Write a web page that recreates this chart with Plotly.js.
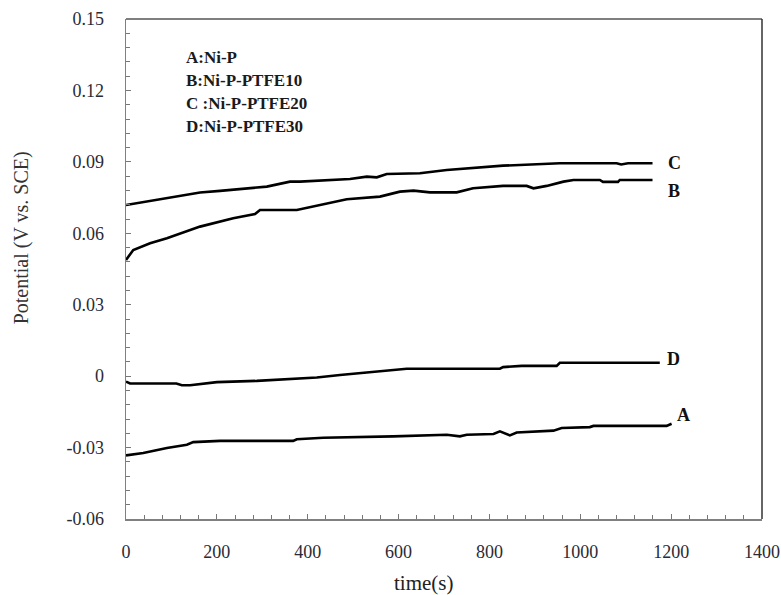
<!DOCTYPE html>
<html>
<head>
<meta charset="utf-8">
<script src="https://cdn.plot.ly/plotly-3.0.1.min.js"></script>
<style>html,body{margin:0;padding:0;background:#fff;}#chart{width:781px;height:595px;}</style>
</head>
<body>
<div id="chart"></div>
<script>
// Series A: Ni-P
const tA = [0, 38, 90, 134, 148, 207, 368, 376, 434, 559, 588, 706, 735, 750, 809, 823, 845, 860, 941, 959, 1021, 1029, 1190, 1201];
const vA = [-0.0333, -0.0323, -0.0302, -0.0288, -0.0277, -0.0272, -0.0272, -0.0265, -0.0259, -0.0256, -0.0253, -0.0246, -0.0253, -0.0246, -0.0243, -0.0232, -0.0249, -0.0237, -0.0229, -0.0218, -0.0214, -0.0209, -0.0209, -0.0200];
// Series B: Ni-P-PTFE10
const tB = [0, 16, 53, 90, 163, 236, 284, 295, 376, 427, 486, 559, 603, 633, 669, 728, 764, 830, 882, 897, 926, 963, 985, 1043, 1050, 1083, 1087, 1159];
const vB = [0.0488, 0.0530, 0.0558, 0.0579, 0.0628, 0.0663, 0.0681, 0.0698, 0.0698, 0.0719, 0.0743, 0.0754, 0.0775, 0.0779, 0.0772, 0.0772, 0.0789, 0.0799, 0.0799, 0.0789, 0.0799, 0.0817, 0.0824, 0.0824, 0.0816, 0.0816, 0.0824, 0.0824];
// Series C: Ni-P-PTFE20
const tC = [0, 163, 207, 310, 361, 383, 493, 530, 552, 574, 647, 706, 830, 919, 955, 1080, 1090, 1105, 1159];
const vC = [0.0719, 0.0771, 0.0778, 0.0796, 0.0817, 0.0817, 0.0828, 0.0838, 0.0835, 0.0849, 0.0852, 0.0866, 0.0884, 0.0890, 0.0894, 0.0894, 0.0889, 0.0894, 0.0894];
// Series D: Ni-P-PTFE30
const tD = [0, 9, 111, 123, 141, 200, 288, 361, 420, 471, 530, 559, 588, 618, 823, 830, 871, 948, 955, 1175];
const vD = [-0.0023, -0.0031, -0.0031, -0.0038, -0.0038, -0.0025, -0.0020, -0.0011, -0.0006, 0.0005, 0.0015, 0.0018, 0.0024, 0.0031, 0.0031, 0.0038, 0.0043, 0.0043, 0.0056, 0.0056];

const seriesLetters = ['A', 'B', 'C', 'D'];
const legendLines = ['A:Ni-P', 'B:Ni-P-PTFE10', 'C :Ni-P-PTFE20', 'D:Ni-P-PTFE30'];
const yTickVals = [-0.06, -0.03, 0, 0.03, 0.06, 0.09, 0.12, 0.15];
const yTickText = ['-0.06', '-0.03', '0', '0.03', '0.06', '0.09', '0.12', '0.15'];
const xTickVals = [0, 200, 400, 600, 800, 1000, 1200, 1400];
const xTickText = ['0', '200', '400', '600', '800', '1000', '1200', '1400'];

const xs = [tA, tB, tC, tD];
const ys = [vA, vB, vC, vD];
const labelShift = [{dx: 3, dy: 9}, {dx: 13, dy: -11}, {dx: 13, dy: 0}, {dx: 5, dy: 4}];

const traces = xs.map((x, i) => ({
  x: x, y: ys[i], type: 'scatter', mode: 'lines',
  line: {color: '#000', width: 2.6},
  name: legendLines[i], showlegend: false, hoverinfo: 'skip'
}));

const serif = 'Liberation Serif, Times New Roman, serif';
const annotations = [];
xs.forEach((x, i) => {
  annotations.push({
    x: x[x.length - 1], y: ys[i][ys[i].length - 1], xref: 'x', yref: 'y',
    text: '<b>' + seriesLetters[i] + '</b>', showarrow: false,
    xanchor: 'left', yanchor: 'middle', xshift: labelShift[i].dx, yshift: labelShift[i].dy,
    font: {family: serif, size: 18, color: '#111'}
  });
});
legendLines.forEach((txt, i) => {
  annotations.push({
    x: 0.0915, y: 0.922 - i * 0.0454, xref: 'paper', yref: 'paper',
    text: '<b>' + txt + '</b>', showarrow: false, xanchor: 'left', yanchor: 'middle',
    font: {family: serif, size: 17, color: '#1a1a1a'}
  });
});
annotations.push({
  x: -0.163, y: 0.562, xref: 'paper', yref: 'paper', textangle: -90,
  text: 'Potential (V vs. SCE)', showarrow: false, xanchor: 'center', yanchor: 'middle',
  font: {family: serif, size: 20, color: '#333'}
});
annotations.push({
  x: 0.467, y: -0.128, xref: 'paper', yref: 'paper',
  text: 'time(s)', showarrow: false, xanchor: 'center', yanchor: 'middle',
  font: {family: serif, size: 21, color: '#222'}
});

const layout = {
  width: 781, height: 595,
  margin: {l: 126, r: 19, t: 19, b: 76},
  paper_bgcolor: '#fff', plot_bgcolor: '#fff',
  showlegend: false,
  xaxis: {
    range: [0, 1400], tickmode: 'array', tickvals: xTickVals, ticktext: xTickText,
    ticks: 'inside', ticklen: 5, tickwidth: 1, tickcolor: '#777',
    minor: {ticks: 'inside', tick0: 0, dtick: 40, ticklen: 4, tickcolor: '#777', showgrid: false},
    showline: true, linecolor: '#808080', linewidth: 1.5,
    showgrid: false, zeroline: false, ticklabelstandoff: 16,
    tickfont: {family: serif, size: 18, color: '#2a2a35'}
  },
  yaxis: {
    range: [-0.06, 0.15], tickmode: 'array', tickvals: yTickVals, ticktext: yTickText,
    ticks: 'inside', ticklen: 5, tickwidth: 1, tickcolor: '#777',
    minor: {ticks: 'inside', tick0: -0.06, dtick: 0.006, ticklen: 4, tickcolor: '#777', showgrid: false},
    showline: true, linecolor: '#808080', linewidth: 1.5,
    showgrid: false, zeroline: false, ticklabelstandoff: 17,
    tickfont: {family: serif, size: 18, color: '#2a2a35'}
  },
  shapes: [
    {type: 'line', xref: 'paper', yref: 'paper', x0: 0, x1: 1, y0: 1, y1: 1, line: {color: '#555', width: 1.5}},
    {type: 'line', xref: 'paper', yref: 'paper', x0: 1, x1: 1, y0: 0, y1: 1, line: {color: '#333', width: 1.5}}
  ],
  annotations: annotations
};

Plotly.newPlot('chart', traces, layout, {staticPlot: true, displayModeBar: false});
</script>
</body>
</html>
